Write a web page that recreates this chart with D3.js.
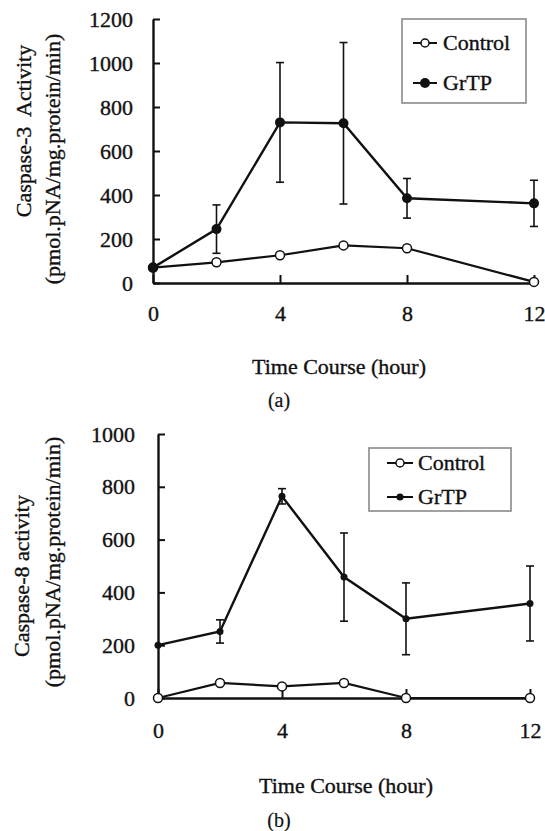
<!DOCTYPE html>
<html>
<head>
<meta charset="utf-8">
<script src="https://cdn.jsdelivr.net/npm/d3@7"></script>
<style>
  body { margin: 0; background: #fff; }
  svg { display: block; }
  svg text { font-family: 'Liberation Serif', 'Times New Roman', serif; }
</style>
</head>
<body>
<div class="container"></div>
<script>
// Data
const hours = [0, 2, 4, 6, 8, 12];
const xTicks = [0, 4, 8, 12];

const casp3Control = [70, 94, 126, 171, 158, 5];
const casp3GrTP = [70, 245, 730, 726, 385, 362];
const casp3GrTPSd = [0, 110, 272, 367, 90, 105];
const casp3Ticks = [0, 200, 400, 600, 800, 1000, 1200];

const casp8Control = [0, 57, 44, 57, 0, 0];
const casp8GrTP = [200, 252, 764, 458, 300, 358];
const casp8GrTPSd = [0, 44, 29, 167, 136, 142];
const casp8Ticks = [0, 200, 400, 600, 800, 1000];

const width = 545;
const height = 831;
const ink = '#111';
const serif = "'Liberation Serif', 'Times New Roman', serif";

const svg = d3
  .select('.container')
  .append('svg')
  .attr('width', width)
  .attr('height', height);

// small helper so every label gets the same print-like look
const styleText = (sel, size) =>
  sel
    .attr('fill', ink)
    .attr('stroke', ink)
    .attr('stroke-width', 0.35)
    .style('font-family', serif)
    .style('font-size', `${size}px`);

const drawPanel = (opt) => {
  const x = d3.scaleLinear().domain([0, 12]).range([opt.left, opt.right]);
  const y = d3.scaleLinear().domain([0, opt.yMax]).range([opt.bottom, opt.top]);
  const g = svg.append('g');

  // Axes (ticks point inward)
  const yAxis = g
    .append('g')
    .attr('transform', `translate(${opt.left},0)`)
    .call(
      d3.axisLeft(y).tickValues(opt.yTicks).tickFormat(d3.format('d'))
        .tickSize(-7).tickPadding(opt.yPad).tickSizeOuter(0)
    );
  const xAxis = g
    .append('g')
    .attr('transform', `translate(0,${opt.bottom})`)
    .call(
      d3.axisBottom(x).tickValues(xTicks).tickFormat(d3.format('d'))
        .tickSize(-opt.xTickLen).tickPadding(opt.xPad).tickSizeOuter(0)
    );
  [yAxis, xAxis].forEach((a) => {
    a.attr('font-family', null).attr('font-size', null);
    a.select('.domain').attr('stroke', ink).attr('stroke-width', 2.4);
    a.selectAll('.tick line').attr('stroke', ink).attr('stroke-width', 2);
    styleText(a.selectAll('.tick text'), 22);
  });
  xAxis.selectAll('.tick text').attr('dy', '0.71em');

  // Error bars for GrTP
  const errs = hours.map((h, i) => ({ h, v: opt.grtp[i], sd: opt.sd[i] })).filter((d) => d.sd > 0);
  const eb = g.append('g').attr('stroke', ink).attr('stroke-width', 1.6);
  errs.forEach((d) => {
    eb.append('line').attr('x1', x(d.h)).attr('x2', x(d.h)).attr('y1', y(d.v - d.sd)).attr('y2', y(d.v + d.sd));
    [d.v - d.sd, d.v + d.sd].forEach((v) => {
      eb.append('line').attr('x1', x(d.h) - 4).attr('x2', x(d.h) + 4).attr('y1', y(v)).attr('y2', y(v));
    });
  });

  const line = d3.line().x((d) => x(d[0])).y((d) => y(d[1]));

  // Control series
  const ctrl = hours.map((h, i) => [h, opt.control[i]]);
  g.append('path').datum(ctrl).attr('d', line).attr('fill', 'none').attr('stroke', ink).attr('stroke-width', 2.2);
  // GrTP series
  const grtp = hours.map((h, i) => [h, opt.grtp[i]]);
  g.append('path').datum(grtp).attr('d', line).attr('fill', 'none').attr('stroke', ink).attr('stroke-width', 2.4);

  g.selectAll('.ctrl')
    .data(ctrl)
    .enter()
    .append('circle')
    .attr('cx', (d) => x(d[0]))
    .attr('cy', (d) => y(d[1]))
    .attr('r', 4.5)
    .attr('fill', '#fff')
    .attr('stroke', ink)
    .attr('stroke-width', 1.5);
  g.selectAll('.grtp')
    .data(grtp)
    .enter()
    .append('circle')
    .attr('cx', (d) => x(d[0]))
    .attr('cy', (d) => y(d[1]))
    .attr('r', opt.dotR)
    .attr('fill', ink);

  // Y title (two rotated lines)
  opt.yTitle.forEach((t) => {
    styleText(
      g.append('text')
        .attr('transform', `translate(${t.cx},${t.cy}) rotate(-90)`)
        .attr('text-anchor', 'middle')
        .attr('dy', '0.35em')
        .style('white-space', 'pre')
        .text(t.text),
      22
    );
  });

  // X title and panel label
  styleText(
    g.append('text')
      .attr('x', opt.xTitle.cx)
      .attr('y', opt.xTitle.y)
      .attr('text-anchor', 'middle')
      .text('Time Course (hour)'),
    22
  );
  styleText(
    g.append('text')
      .attr('x', opt.label.cx)
      .attr('y', opt.label.y)
      .attr('text-anchor', 'middle')
      .text(opt.label.text),
    20
  ).attr('stroke-width', 0.2);

  // Legend
  const L = opt.legend;
  g.append('rect')
    .attr('x', L.x)
    .attr('y', L.y)
    .attr('width', L.w)
    .attr('height', L.h)
    .attr('fill', '#fff')
    .attr('stroke', '#8a8a8a')
    .attr('stroke-width', 1.6);
  [
    { name: 'Control', y: L.row1, open: true },
    { name: 'GrTP', y: L.row2, open: false },
  ].forEach((item) => {
    g.append('line')
      .attr('x1', L.sx1)
      .attr('x2', L.sx2)
      .attr('y1', item.y)
      .attr('y2', item.y)
      .attr('stroke', ink)
      .attr('stroke-width', 2);
    g.append('circle')
      .attr('cx', (L.sx1 + L.sx2) / 2)
      .attr('cy', item.y)
      .attr('r', item.open ? 4 : opt.dotR)
      .attr('fill', item.open ? '#fff' : ink)
      .attr('stroke', ink)
      .attr('stroke-width', item.open ? 1.5 : 0);
    styleText(
      g.append('text')
        .attr('x', L.tx)
        .attr('y', item.y)
        .attr('dy', '0.33em')
        .text(item.name),
      22
    );
  });
};

drawPanel({
  left: 153, right: 534, top: 19, bottom: 283,
  yMax: 1200, yTicks: casp3Ticks, yPad: 20, xPad: 22, xTickLen: 8,
  control: casp3Control, grtp: casp3GrTP, sd: casp3GrTPSd, dotR: 5,
  yTitle: [
    { text: 'Caspase-3  Activity', cx: 23, cy: 131 },
    { text: '(pmol.pNA/mg.protein/min)', cx: 52, cy: 159 },
  ],
  xTitle: { cx: 339, y: 374 },
  label: { cx: 279, y: 407, text: '(a)' },
  legend: { x: 402, y: 19, w: 124, h: 84, row1: 43, row2: 83, sx1: 413, sx2: 437, tx: 443 },
});

drawPanel({
  left: 158, right: 530, top: 434, bottom: 698,
  yMax: 1000, yTicks: casp8Ticks, yPad: 23, xPad: 24, xTickLen: 9,
  control: casp8Control, grtp: casp8GrTP, sd: casp8GrTPSd, dotR: 3.5,
  yTitle: [
    { text: 'Caspase-8 activity', cx: 21, cy: 576 },
    { text: '(pmol.pNA/mg.protein/min)', cx: 52, cy: 562 },
  ],
  xTitle: { cx: 346, y: 793 },
  label: { cx: 279, y: 827, text: '(b)' },
  legend: { x: 369, y: 448, w: 142, h: 63, row1: 463, row2: 497, sx1: 387, sx2: 413, tx: 418 },
});
</script>
</body>
</html>
